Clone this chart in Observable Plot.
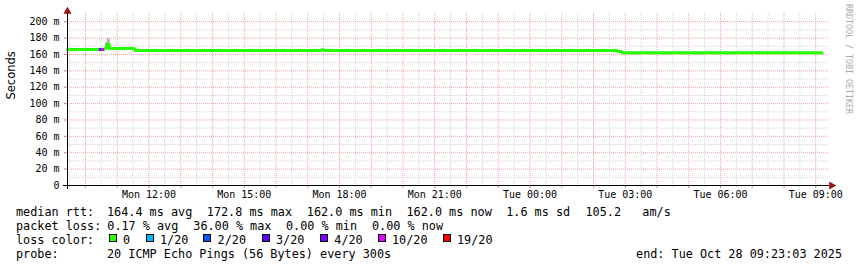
<!DOCTYPE html>
<html><head><meta charset="utf-8">
<script src="https://cdn.jsdelivr.net/npm/d3@7"></script>
<script src="https://cdn.jsdelivr.net/npm/@observablehq/plot@0.6"></script>
<style>
body{margin:0;background:#fff;}
#wrap{position:relative;width:857px;height:267px;overflow:hidden;background:#fff;font-family:"DejaVu Sans Mono",monospace;}
#chart{position:absolute;left:0;top:0;}
.t{position:absolute;font-size:11.8px;line-height:14px;white-space:pre;color:#000;}
.box{position:absolute;width:6px;height:6px;border:1px solid #000;}
#mark{position:absolute;left:844px;top:4px;writing-mode:vertical-rl;font-size:8.3px;color:#aaa;white-space:pre;}
</style>
</head><body>
<div id="wrap"><div id="chart"></div></div>
<script>
// ---- data ----
const startTime = "2025-10-27T09:26:00Z";
const endTime = "2025-10-28T09:26:00Z";
// median rtt steps (value holds until the next time); last entry marks end of data
const medianTimes = ["2025-10-27T09:26Z","2025-10-27T10:26Z","2025-10-27T10:31Z","2025-10-27T10:36Z","2025-10-27T10:41Z","2025-10-27T10:45Z","2025-10-27T11:33Z","2025-10-27T17:25Z","2025-10-27T17:31Z","2025-10-28T02:45Z","2025-10-28T02:53Z","2025-10-28T09:12Z"];
const medianValues = [165.9, 166.0, 166.0, 167.6, 172.8, 167.3, 164.8, 165.8, 164.8, 163.6, 162.2, 162.2];
const medianLoss =   [0, 4, 5, 0, 0, 0, 0, 0, 0, 0, 0, 0]; // index into lossLabels
// smoke (ping spread)
const smokeStart = ["2025-10-27T10:39Z","2025-10-27T10:41Z"];
const smokeEnd =   ["2025-10-27T10:41Z","2025-10-27T10:47Z"];
const smokeLow =   [168.0, 171.0];
const smokeHigh =  [174.0, 179.0];
const smokeShade = ["dark","light"];
// legend
const lossLabels = ["0","1/20","2/20","3/20","4/20","10/20","19/20"];
const lossColors = ["#26ff00","#00b8ff","#0059ff","#5e00ff","#7e00ff","#dd00ff","#ff0000"];
const rttHead = "median rtt:";
const rttStats = ["164.4 ms avg","172.8 ms max","162.0 ms min","162.0 ms now","1.6 ms sd","105.2   am/s"];
const lossHead = "packet loss:";
const lossStats = ["0.17 % avg","36.00 % max","0.00 % min","0.00 % now"];
const colorHead = "loss color:";
const probeHead = "probe:";
const probeText = "20 ICMP Echo Pings (56 Bytes) every 300s";
const endText = "end: Tue Oct 28 09:23:03 2025";
const yTicks = [0,20,40,60,80,100,120,140,160,180,200];
const watermark = "RRDTOOL / TOBI OETIKER";

// ---- layout (pixels) ----
const rttX = [107, 206.8, 306.8, 406.5, 506.2, 585.5];
const lossX = [107.3, 193.3, 286, 372];
const boxX = [108.7, 145.7, 203.3, 261.7, 320, 377.7, 442.7];
const rowTop = [205, 219, 233, 247];

// ---- build ----
const x0 = new Date(startTime), x1 = new Date(endTime);
const median = medianTimes.map((t,i)=>({t:new Date(t), t2: i+1<medianTimes.length ? new Date(medianTimes[i+1]) : new Date(t), v:medianValues[i], loss:medianLoss[i]}));
const lossy = median.filter(d=>d.loss>0);
const smoke = smokeStart.map((s,i)=>({t1:new Date(s), t2:new Date(smokeEnd[i]), lo:smokeLow[i], hi:smokeHigh[i], shade:smokeShade[i]}));
const fmt = d3.utcFormat("%a %H:%M");
const hours = d3.utcHour.range(x0, x1);
const halfHours = d3.utcMinute.every(30).range(x0, x1).filter(d=>d.getUTCMinutes()===30);
const minorY = d3.range(10, 210, 20);
const majorY = yTicks.filter(v=>v>0);

const chart = Plot.plot({
  width: 857, height: 203,
  marginLeft: 67, marginRight: 28, marginTop: 13, marginBottom: 18,
  x: {type: "utc", domain: [x0, x1]},
  y: {domain: [0, 210]},
  style: {fontFamily: "'DejaVu Sans Mono', monospace", fontSize: "10px", background: "white", color: "#000", overflow: "visible"},
  marks: [
    Plot.ruleX(halfHours, {stroke: "#d4d4d4", strokeDasharray: "1,1"}),
    Plot.ruleY(minorY, {stroke: "#d4d4d4", strokeDasharray: "1,1"}),
    Plot.ruleX(hours, {stroke: "#f2a0a0", strokeDasharray: "1,1"}),
    Plot.ruleY(majorY, {stroke: "#f2a0a0", strokeDasharray: "1,1"}),
    Plot.rect(smoke, {x1: "t1", x2: "t2", y1: "lo", y2: "hi", fill: d => d.shade === "dark" ? "#303030" : "#b4b4b4"}),
    Plot.line(median, {x: "t", y: "v", curve: "step-after", stroke: lossColors[0], strokeWidth: 3, strokeLinejoin: "miter"}),
    Plot.ruleY(lossy, {y: "v", x1: "t", x2: "t2", stroke: d => lossColors[d.loss], strokeWidth: 3}),
    Plot.axisX({ticks: halfHours, tickSize: 2, stroke: "#c8c8c8", tickFormat: () => ""}),
    Plot.axisX({ticks: hours, tickSize: 3, stroke: "#f08080", tickPadding: 2, fill: "#000",
      tickFormat: d => d.getUTCHours() % 3 === 0 ? fmt(d) : ""}),
    Plot.axisY({ticks: yTicks, tickSize: 3, tickPadding: 5, stroke: "#c08080", fill: "#000",
      tickFormat: d => d === 0 ? "0" : d + " m", label: null}),
    Plot.ruleY([0], {stroke: "#000", insetLeft: -4}),
    Plot.ruleX([x0], {stroke: "#000", insetBottom: -4}),
    Plot.dot([0], {frameAnchor: "bottom-right", symbol: "triangle", r: 3, rotate: 90, fill: "#9b1010", stroke: null, dx: 2}),
    Plot.dot([0], {frameAnchor: "top-left", symbol: "triangle", r: 3, fill: "#9b1010", stroke: null, dy: -2}),
    Plot.text(["Seconds"], {frameAnchor: "left", rotate: -90, dx: -56, fontSize: 11.5, fontFamily: "'DejaVu Sans', sans-serif", fill: "#000"})
  ]
});
const wrap = document.getElementById("wrap");
document.getElementById("chart").appendChild(chart);

function txt(s, left, top){ const d=document.createElement("div"); d.className="t"; d.style.left=left+"px"; d.style.top=top+"px"; d.textContent=s; wrap.appendChild(d); return d; }
txt(rttHead, 16, rowTop[0]); rttStats.forEach((s,i)=>txt(s, rttX[i], rowTop[0]));
txt(lossHead, 16, rowTop[1]); lossStats.forEach((s,i)=>txt(s, lossX[i], rowTop[1]));
txt(colorHead, 16, rowTop[2]);
lossLabels.forEach((l,i)=>{
  const b=document.createElement("div"); b.className="box"; b.style.left=boxX[i]+"px"; b.style.top=(rowTop[2]+0.5)+"px"; b.style.background=lossColors[i]; wrap.appendChild(b);
  txt(l, boxX[i]+14.3, rowTop[2]);
});
txt(probeHead, 16, rowTop[3]); txt(probeText, 107, rowTop[3]);
const e=txt(endText, 0, rowTop[3]); e.style.left=""; e.style.right="15px";
const m=document.createElement("div"); m.id="mark"; m.textContent=watermark; wrap.appendChild(m);
</script>
</body></html>
